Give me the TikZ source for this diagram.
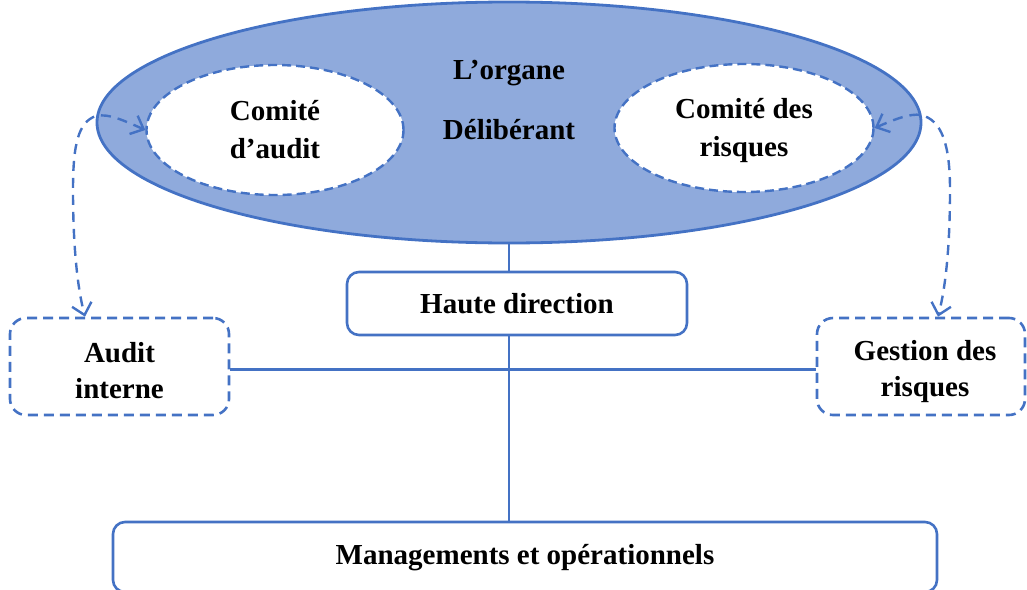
\documentclass[tikz,border=0pt]{standalone}
\usepackage{fontspec}
\setmainfont{Liberation Serif}
\usetikzlibrary{shapes.geometric,arrows.meta}
\definecolor{edgeblue}{HTML}{4472C4}
\definecolor{fillblue}{HTML}{8FAADC}
\begin{document}
\begin{tikzpicture}[x=1pt,y=-1pt,
  txt/.style={font=\fontsize{29}{36}\selectfont\bfseries, align=center, text=black},
  solidbox/.style={draw=edgeblue, line width=2.6pt, rounded corners=12pt, fill=white, inner sep=0pt, txt},
  dashbox/.style={draw=edgeblue, line width=2.6pt, dash pattern=on 10pt off 6pt, rounded corners=16pt, inner sep=0pt},
  committee/.style={ellipse, draw=edgeblue, fill=white, line width=2.4pt, dash pattern=on 9pt off 5pt, inner sep=0pt, txt, font=\fontsize{29}{38}\selectfont\bfseries},
  link/.style={draw=edgeblue, line width=2.6pt},
  dlink/.style={draw=edgeblue, line width=2.4pt, dash pattern=on 10pt off 7pt,
    {Straight Barb[length=11pt,width=20pt]}-{Straight Barb[length=11pt,width=20pt]}},
]
\useasboundingbox (0,0) rectangle (1027,589);

% governing body with its two committees
\node[ellipse, draw=edgeblue, fill=fillblue, line width=2.8pt, minimum width=824pt, minimum height=241pt, inner sep=0pt] (board) at (509,122.5) {};
\node[txt] (orgA) at (509,73) {L’organe};
\node[txt] (orgB) at (509,130) {Délibérant};
\node[committee, minimum width=257pt, minimum height=130pt] (cda) at (275,130) {Comité\\d’audit};
\node[committee, minimum width=259pt, minimum height=128pt] (cdr) at (744,128) {};
\node[txt, font=\fontsize{29}{38}\selectfont\bfseries] (cdrTxt) at ([yshift=-3pt]cdr.center) {Comité des\\risques};

% boxes
\node[solidbox, minimum width=340pt, minimum height=63pt] (haute) at (517,303.5) {Haute direction};
\node[dashbox, minimum width=219pt, minimum height=97pt] (auditint) at (119.5,366.5) {};
\node[txt] (auditTxt) at ([yshift=-4pt]auditint.center) {Audit\\interne};
\node[dashbox, minimum width=208pt, minimum height=97pt] (risk) at (921,366.5) {};
\node[txt] (riskTxt) at ([xshift=4pt,yshift=-5pt]risk.center) {Gestion des\\risques};
\node[solidbox, minimum width=824pt, minimum height=70pt] (mgmt) at (525,557) {};
\node[txt] (mgmtTxt) at ([yshift=-1pt]mgmt.center) {Managements et opérationnels};

% solid links
\draw[link] (board.south) -- (board.south |- haute.north);
\draw[link] (board.south |- haute.south) -- (board.south |- mgmt.north);
\draw[link] ([yshift=-3pt]auditint.east) -- ([yshift=-3pt]risk.west);

% dashed two-way links
\coordinate (aiTop) at ([xshift=-34.5pt]auditint.north);
\coordinate (rkTop) at ([xshift=17pt]risk.north);
\draw[dlink] (cda.west) .. controls (125,121) and (108,113) .. (96,116)
  .. controls (78,122) and (73,145) .. (73,190)
  .. controls (73,250) and (78,290) .. (aiTop);
\draw[dlink] (cdr.east) .. controls (893,120) and (910,113) .. (921,115)
  .. controls (942,120) and (950,145) .. (950,190)
  .. controls (950,250) and (945,290) .. (rkTop);
\end{tikzpicture}
\end{document}
